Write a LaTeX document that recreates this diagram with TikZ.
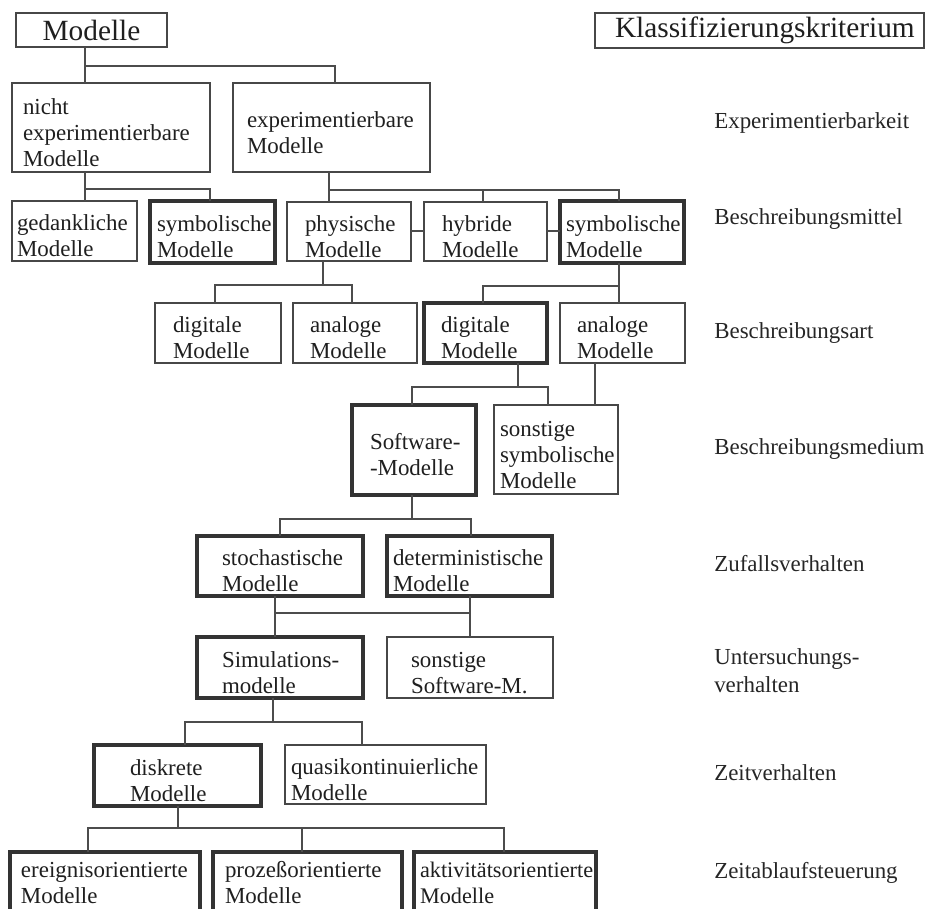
\documentclass[tikz,border=0pt]{standalone}
\usepackage{fontspec}
\setmainfont{Liberation Serif}
\newdimen\px \px=0.75pt
\def\boxstrut{19.5pt}
\begin{document}
\begin{tikzpicture}[x=0.75pt,y=-0.75pt,
  strut height/.store in=\boxstrut,
  box/.style n args={4}{draw=black!72, line width=0.8pt, anchor=north west,
     outer sep=0pt, inner ysep=0pt, align=left, text=black!88,
     minimum width=#1\px, minimum height=#2\px, inner xsep=#3\px, text width=#4\px,
     font=\fontsize{17.2}{19.6}\selectfont, strut height=19.5pt,
     execute at begin node={\hyphenpenalty=10000\exhyphenpenalty=10000\relax\rule{0pt}{\boxstrut}}},
  heavy/.style={draw=black!80, line width=2.3pt},
  ln/.style={draw=black!70, line width=0.8pt},
  crit/.style={anchor=base west, inner sep=0pt, text=black!85, align=left,
     font=\fontsize{17.2}{21}\selectfont}
]
\useasboundingbox (0,0) rectangle (936,909);
\fill[white] (0,0) rectangle (936,909);

% header boxes
\node[box={151}{34}{0}{151}, align=center, font=\fontsize{22}{26}\selectfont,
      strut height=0pt] (title) at (16,13) {Modelle};
\node[box={329}{35}{20}{289}, font=\fontsize{22}{26}\selectfont,
      strut height=0pt] (kk) at (595,13) {Klassifizierungskriterium};

% level 1: Experimentierbarkeit
\node[box={198}{89}{11}{176}] (nexp) at (12,83) {nicht\\experimentierbare\\Modelle};
\node[box={197}{89}{14}{169}] (exp) at (233,83) {experimentierbare\\Modelle};

% level 2: Beschreibungsmittel
\node[box={125}{60}{5}{115}] (ged) at (12,201) {gedankliche\\Modelle};
\node[box={125}{62}{7}{111}, heavy] (symL) at (150,201) {symbolische\\Modelle};
\node[box={124}{59}{18}{88}] (phys) at (287,202) {physische\\Modelle};
\node[box={123}{59}{18}{87}] (hyb) at (424,202) {hybride\\Modelle};
\node[box={124}{62}{6}{112}, heavy] (symR) at (560,201) {symbolische\\Modelle};

% level 3: Beschreibungsart
\node[box={126}{60}{18}{90}] (digL) at (155,303) {digitale\\Modelle};
\node[box={124}{60}{17}{90}] (anaL) at (293,303) {analoge\\Modelle};
\node[box={123}{60}{17}{89}, heavy] (digR) at (424,303) {digitale\\Modelle};
\node[box={125}{60}{17}{91}] (anaR) at (560,303) {analoge\\Modelle};

% level 4: Beschreibungsmedium
\node[box={124}{90}{18}{88}, heavy] (sw) at (352,405) {Software-\\-Modelle};
\node[box={124}{89}{6}{112}] (sonst) at (494,405) {sonstige\\symbolische\\Modelle};

% level 5: Zufallsverhalten
\node[box={166}{60}{25}{116}, heavy] (stoch) at (197,536) {stochastische\\Modelle};
\node[box={165}{60}{6}{153}, heavy] (det) at (387,536) {deterministische\\Modelle};

% level 6: Untersuchungsverhalten
\node[box={166}{61}{25}{116}, heavy] (sim) at (197,637) {Simulations-\\modelle};
\node[box={166}{61}{24}{118}] (sonstSW) at (387,637) {sonstige\\Software-M.};

% level 7: Zeitverhalten
\node[box={167}{61}{36}{95}, heavy] (disk) at (94,745) {diskrete\\Modelle};
\node[box={201}{59}{6}{189}] (quasi) at (285,745) {quasikontinuierliche\\Modelle};

% level 8: Zeitablaufsteuerung (boxes run past the lower edge)
\node[box={190}{60}{11}{168}, heavy, strut height=13pt] (ereig) at (10,852) {ereignisorientierte\\Modelle};
\node[box={189}{60}{12}{165}, heavy, strut height=13pt] (proz) at (213,852) {prozeßorientierte\\Modelle};
\node[box={182}{60}{6}{170}, heavy, strut height=13pt, font=\fontsize{16.7}{19.6}\selectfont] (akt) at (414,852) {aktivitätsorientierte\\Modelle};

% criteria column
\node[crit] (k1) at (714,129) {Experimentierbarkeit};
\node[crit] (k2) at (714,225) {Beschreibungsmittel};
\node[crit] (k3) at (714,339) {Beschreibungsart};
\node[crit] (k4) at (714,455) {Beschreibungsmedium};
\node[crit] (k5) at (714,571) {Zufallsverhalten};
\node[crit, anchor=north west] (k6) at (714,648) {Untersuchungs-\\verhalten};
\node[crit] (k7) at (714,780) {Zeitverhalten};
\node[crit] (k8) at (714,878) {Zeitablaufsteuerung};

% connectors
\coordinate (a1) at (85,66); \coordinate (a2) at (335,66);
\draw[ln] (title.south -| a1) -- (a1) -- (a2) -- (exp.north -| a2);
\draw[ln] (a1) -- (nexp.north -| a1);

\coordinate (b1) at (85,189); \coordinate (b2) at (210,189);
\draw[ln] (nexp.south -| b1) -- (b1) -- (b2) -- (symL.north -| b2);
\draw[ln] (b1) -- (ged.north -| b1);

\coordinate (c1) at (329,190); \coordinate (c2) at (483,190); \coordinate (c3) at (619,190);
\draw[ln] (exp.south -| c1) -- (c1) -- (c3) -- (symR.north -| c3);
\draw[ln] (c1) -- (phys.north -| c1);
\draw[ln] (c2) -- (hyb.north -| c2);
\coordinate (s1) at (0,231);
\draw[ln] (phys.east |- s1) -- (hyb.west |- s1);
\draw[ln] (hyb.east |- s1) -- (symR.west |- s1);

\coordinate (d0) at (323,285); \coordinate (d1) at (215,285); \coordinate (d2) at (352,285);
\draw[ln] (phys.south -| d0) -- (d0);
\draw[ln] (digL.north -| d1) -- (d1) -- (d2) -- (anaL.north -| d2);

\coordinate (e1) at (483,286); \coordinate (e2) at (619,286);
\draw[ln] (symR.south -| e2) -- (anaR.north -| e2);
\draw[ln] (e2) -- (e1) -- (digR.north -| e1);

\coordinate (f0) at (518,387); \coordinate (f1) at (412,387); \coordinate (f2) at (548,387);
\draw[ln] (digR.south -| f0) -- (f0);
\draw[ln] (sw.north -| f1) -- (f1) -- (f2) -- (sonst.north -| f2);
\coordinate (f3) at (595,0);
\draw[ln] (anaR.south -| f3) -- (sonst.north -| f3);

\coordinate (g0) at (412,519); \coordinate (g1) at (280,519); \coordinate (g2) at (471,519);
\draw[ln] (sw.south -| g0) -- (g0);
\draw[ln] (stoch.north -| g1) -- (g1) -- (g2) -- (det.north -| g2);

\coordinate (h1) at (275,613); \coordinate (h2) at (470,613);
\draw[ln] (stoch.south -| h1) -- (sim.north -| h1);
\draw[ln] (det.south -| h2) -- (sonstSW.north -| h2);
\draw[ln] (h1) -- (h2);

\coordinate (i0) at (273,722); \coordinate (i1) at (185,722); \coordinate (i2) at (362,722);
\draw[ln] (sim.south -| i0) -- (i0);
\draw[ln] (disk.north -| i1) -- (i1) -- (i2) -- (quasi.north -| i2);

\coordinate (j0) at (178,828); \coordinate (j1) at (88,828);
\coordinate (j2) at (302,828); \coordinate (j3) at (504,828);
\draw[ln] (disk.south -| j0) -- (j0);
\draw[ln] (ereig.north -| j1) -- (j1) -- (j3) -- (akt.north -| j3);
\draw[ln] (j2) -- (proz.north -| j2);
\end{tikzpicture}
\end{document}
